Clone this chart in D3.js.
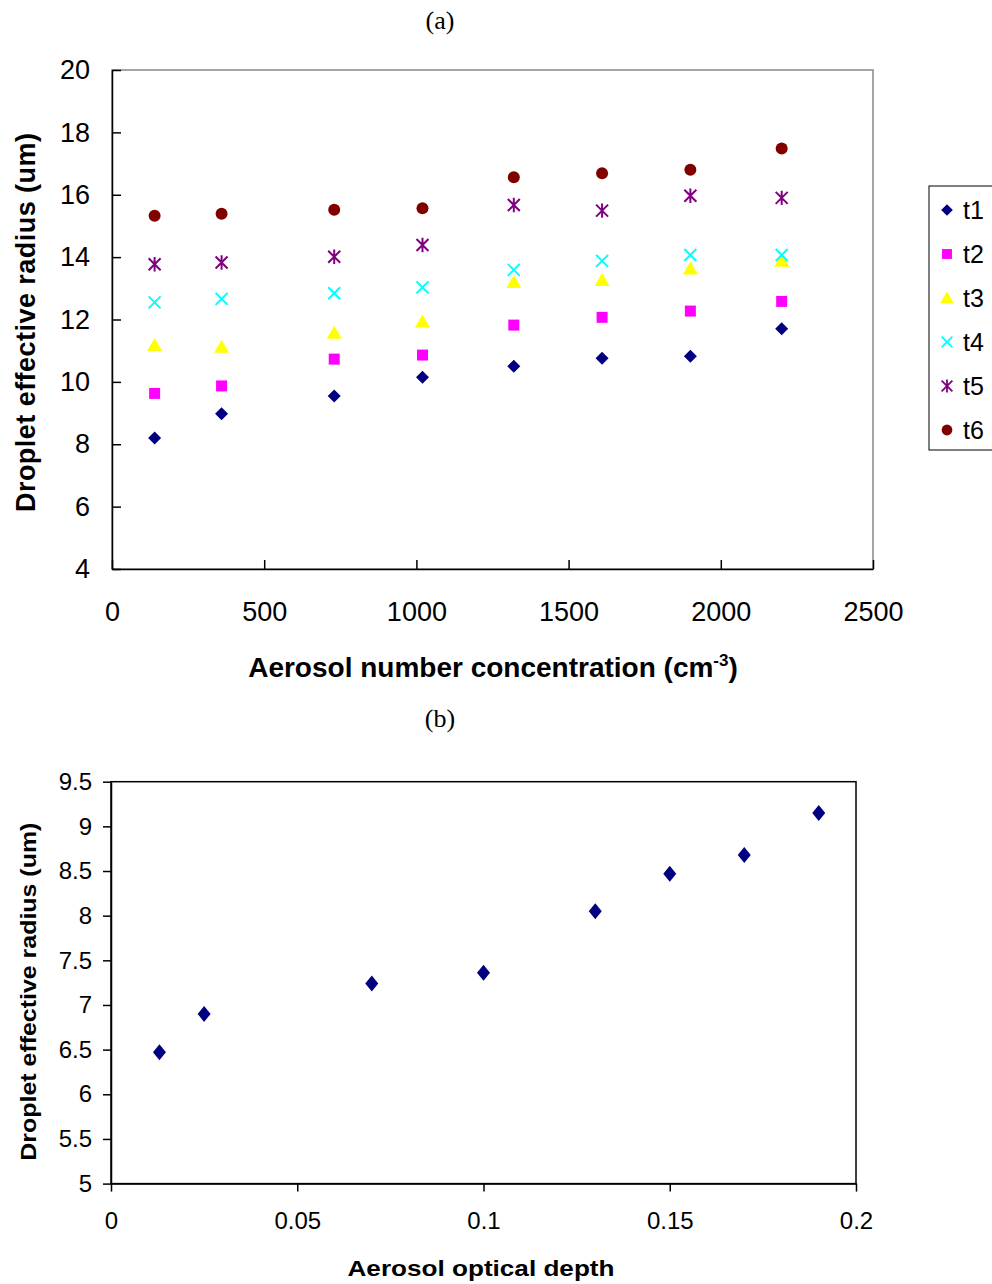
<!DOCTYPE html>
<html>
<head>
<meta charset="utf-8">
<script src="https://cdn.jsdelivr.net/npm/d3@7"></script>
<style>
  body { margin: 0; background: #fff; }
  svg { display: block; font-family: "Liberation Sans", Arial, sans-serif; }
  .frame { fill: none; stroke: #888; stroke-width: 1.5; }
  .axis path, .axis line { stroke: #000; stroke-width: 1.5; }
</style>
</head>
<body>
<div id="chart"></div>
<script>
// panel (a): droplet effective radius vs aerosol number concentration
const concentration = [140, 360, 730, 1020, 1320, 1610, 1900, 2200];
const seriesNames = ['t1', 't2', 't3', 't4', 't5', 't6'];
const t1 = [8.2, 8.98, 9.55, 10.15, 10.5, 10.76, 10.82, 11.7];
const t2 = [9.63, 9.87, 10.73, 10.86, 11.82, 12.07, 12.27, 12.58];
const t3 = [11.18, 11.12, 11.57, 11.93, 13.2, 13.26, 13.63, 13.88];
const t4 = [12.55, 12.66, 12.84, 13.03, 13.59, 13.88, 14.07, 14.07];
const t5 = [13.77, 13.83, 14.01, 14.39, 15.67, 15.49, 15.97, 15.9];
const t6 = [15.33, 15.39, 15.52, 15.57, 16.56, 16.69, 16.8, 17.48];
const xTicksA = [0, 500, 1000, 1500, 2000, 2500];
const yTicksA = [4, 6, 8, 10, 12, 14, 16, 18, 20];

// panel (b): droplet effective radius vs aerosol optical depth
const opticalDepth = [0.013, 0.025, 0.07, 0.1, 0.13, 0.15, 0.17, 0.19];
const radiusB = [6.47, 6.9, 7.24, 7.36, 8.05, 8.47, 8.68, 9.15];
const xTicksB = [0, 0.05, 0.1, 0.15, 0.2];
const yTicksB = [5, 5.5, 6, 6.5, 7, 7.5, 8, 8.5, 9, 9.5];

const W = 992, H = 1284;
const svg = d3.select('#chart').append('svg').attr('width', W).attr('height', H);

// marker shapes
const shapes = {
  diamond: (w, h) => `M0,${-h/2}L${w/2},0L0,${h/2}L${-w/2},0Z`,
  square: s => `M${-s/2},${-s/2}h${s}v${s}h${-s}Z`,
  triangle: s => `M0,${-s*0.55}L${s*0.58},${s*0.45}L${-s*0.58},${s*0.45}Z`,
  cross: s => `M${-s/2},${-s/2}L${s/2},${s/2}M${s/2},${-s/2}L${-s/2},${s/2}`,
  star: s => `M${-s/2},${-s/2}L${s/2},${s/2}M${s/2},${-s/2}L${-s/2},${s/2}M0,${-s*0.6}L0,${s*0.6}`
};
const series = [
  { name: 't1', values: t1, color: '#000080', path: shapes.diamond(13, 13), fill: true },
  { name: 't2', values: t2, color: '#FF00FF', path: shapes.square(11), fill: true },
  { name: 't3', values: t3, color: '#FFFF00', path: shapes.triangle(13), fill: true },
  { name: 't4', values: t4, color: '#00FFFF', path: shapes.cross(12), fill: false },
  { name: 't5', values: t5, color: '#800080', path: shapes.star(12), fill: false },
  { name: 't6', values: t6, color: '#800000', circle: 6, fill: true }
];

function drawMarker(g, s) {
  if (s.circle) {
    return g.append('circle').attr('r', s.circle).attr('fill', s.color);
  }
  const p = g.append('path').attr('d', s.path);
  if (s.fill) p.attr('fill', s.color);
  else p.attr('fill', 'none').attr('stroke', s.color).attr('stroke-width', 2);
  return p;
}

// ---------- panel (a) ----------
const a = { left: 112, right: 873, top: 70, bottom: 569 };
const xA = d3.scaleLinear().domain([0, 2500]).range([a.left, a.right]);
const yA = d3.scaleLinear().domain([4, 20]).range([a.bottom, a.top]);

svg.append('text').attr('x', 440).attr('y', 29).attr('text-anchor', 'middle')
  .style('font-family', '"Liberation Serif", "Times New Roman", serif').style('font-size', '26px')
  .text('(a)');

svg.append('rect').attr('class', 'frame')
  .attr('x', a.left).attr('y', a.top).attr('width', a.right - a.left).attr('height', a.bottom - a.top);

svg.append('g').attr('class', 'axis').attr('transform', `translate(0,${a.bottom})`)
  .call(d3.axisBottom(xA).tickValues(xTicksA).tickFormat(d3.format('d')).tickSize(-9).tickPadding(33).tickSizeOuter(0))
  .call(g => g.selectAll('text').style('font-size', '27px').attr('fill', '#000'));

svg.append('g').attr('class', 'axis').attr('transform', `translate(${a.left},0)`)
  .call(d3.axisLeft(yA).tickValues(yTicksA).tickSize(-9).tickPadding(22).tickSizeOuter(0))
  .call(g => g.selectAll('text').style('font-size', '27px').attr('fill', '#000'));

series.forEach(s => {
  const g = svg.append('g');
  s.values.forEach((v, i) => {
    drawMarker(g.append('g').attr('transform', `translate(${xA(concentration[i])},${yA(v)})`), s);
  });
});

const xLabA = svg.append('text').attr('x', 493).attr('y', 677).attr('text-anchor', 'middle')
  .style('font-size', '28px').style('font-weight', 'bold');
xLabA.append('tspan').text('Aerosol number concentration (cm');
xLabA.append('tspan').attr('dy', -11).style('font-size', '17px').text('-3');
xLabA.append('tspan').attr('dy', 11).text(')');

svg.append('text').attr('transform', `translate(35,${(a.top + a.bottom) / 2 + 3}) rotate(-90)`)
  .attr('text-anchor', 'middle').style('font-size', '27px').style('font-weight', 'bold')
  .attr('textLength', 379).attr('lengthAdjust', 'spacing')
  .text('Droplet effective radius (um)');

// legend
const leg = svg.append('g');
leg.append('rect').attr('x', 929).attr('y', 186).attr('width', 70).attr('height', 264)
  .attr('fill', '#fff').attr('stroke', '#000').attr('stroke-width', 1);
series.forEach((s, i) => {
  const y = 210 + i * 44;
  const item = leg.append('g').attr('transform', `translate(947,${y})`);
  drawMarker(item, s).attr('transform', 'scale(0.9)');
  leg.append('text').attr('x', 963).attr('y', y + 9).style('font-size', '25px').text(s.name);
});

// ---------- panel (b) ----------
const b = { left: 111, right: 856, top: 781.7, bottom: 1183.6 };
const xB = d3.scaleLinear().domain([0, 0.2]).range([b.left, b.right]);
const yB = d3.scaleLinear().domain([5, 9.5]).range([b.bottom, b.top]);

svg.append('text').attr('x', 440).attr('y', 727).attr('text-anchor', 'middle')
  .style('font-family', '"Liberation Serif", "Times New Roman", serif').style('font-size', '26px')
  .text('(b)');

svg.append('rect').attr('class', 'frame').style('stroke', '#000')
  .attr('x', b.left).attr('y', b.top).attr('width', b.right - b.left).attr('height', b.bottom - b.top);

svg.append('g').attr('class', 'axis').attr('transform', `translate(0,${b.bottom})`)
  .call(d3.axisBottom(xB).tickValues(xTicksB).tickFormat(d3.format('~g')).tickSize(8).tickPadding(20).tickSizeOuter(0))
  .call(g => g.selectAll('text').style('font-size', '24px').attr('fill', '#000'));

svg.append('g').attr('class', 'axis').attr('transform', `translate(${b.left},0)`)
  .call(d3.axisLeft(yB).tickValues(yTicksB).tickFormat(d3.format('~g')).tickSize(8).tickPadding(11).tickSizeOuter(0))
  .call(g => g.selectAll('text').style('font-size', '24px').attr('fill', '#000'));

svg.append('g').selectAll('path').data(opticalDepth).join('path')
  .attr('d', shapes.diamond(13, 16))
  .attr('transform', (d, i) => `translate(${xB(d)},${yB(radiusB[i])})`)
  .attr('fill', '#000080');

svg.append('text').attr('x', 481).attr('y', 1276).attr('text-anchor', 'middle')
  .style('font-size', '22px').style('font-weight', 'bold')
  .attr('textLength', 267).attr('lengthAdjust', 'spacingAndGlyphs')
  .text('Aerosol optical depth');

svg.append('text').attr('transform', `translate(36,${(b.top + b.bottom) / 2 + 9}) rotate(-90)`)
  .attr('text-anchor', 'middle').style('font-size', '22px').style('font-weight', 'bold')
  .attr('textLength', 338).attr('lengthAdjust', 'spacingAndGlyphs')
  .text('Droplet effective radius (um)');
</script>
</body>
</html>
